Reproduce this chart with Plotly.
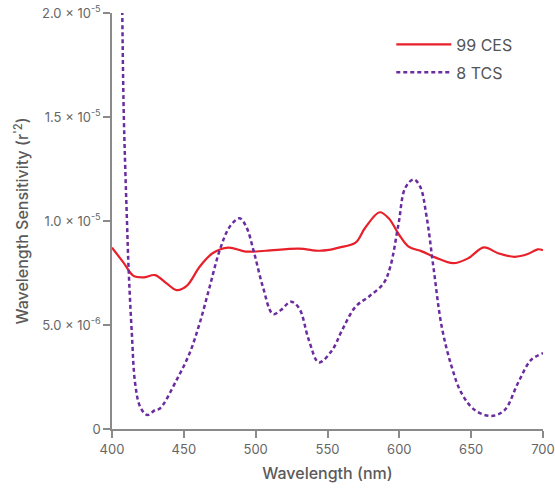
import plotly.graph_objects as go

# 99 CES (solid red)
ces_nm = [400, 408, 415, 422, 430, 438, 445, 452, 461, 470, 481, 493, 507, 530, 544, 551, 558, 569.5, 576, 586.3,
          592.6, 599.5, 606.4, 615.6, 624.9, 637.5, 648, 658.8, 668.7, 680.2, 689.4, 696.3, 700]
ces_val = [8.72e-6, 8.0e-6, 7.36e-6, 7.29e-6, 7.40e-6, 7.0e-6, 6.68e-6, 6.88e-6, 7.80e-6, 8.45e-6, 8.72e-6, 8.53e-6,
           8.57e-6, 8.67e-6, 8.57e-6, 8.61e-6, 8.72e-6, 8.96e-6, 9.65e-6, 10.42e-6,
           10.13e-6, 9.375e-6, 8.77e-6, 8.54e-6, 8.25e-6, 7.97e-6, 8.21e-6, 8.73e-6, 8.45e-6, 8.28e-6, 8.41e-6, 8.64e-6, 8.6e-6]

# 8 TCS (dashed purple)
tcs_nm = [404, 406, 408, 409.2, 410.4, 411.5, 413.8, 416.1, 419.6, 424.5, 430, 433.4, 445, 454, 461, 468, 475, 482,
          488.8, 493.4, 499, 505, 512, 517.6, 524.5, 530.3, 537, 544, 553.3, 560.2, 569.5, 578.7, 589, 593.7, 599.5,
          604, 609.9, 614.5, 619, 623.7, 629.5, 636.4, 643.3, 652.5, 664, 673.3, 682.5, 691.7, 700]
tcs_val = [4.5e-5, 2.8e-5, 1.58e-5, 1.26e-5, 1.005e-5, 7.8e-6, 4.6e-6, 2.2e-6, 1.07e-6, 0.67e-6, 0.91e-6, 0.99e-6,
           2.36e-6, 3.64e-6, 5.08e-6, 6.84e-6, 8.6e-6, 9.73e-6,
           10.13e-6, 9.73e-6, 8.45e-6, 6.84e-6, 5.53e-6, 5.72e-6, 6.12e-6, 5.80e-6, 4.28e-6, 3.2e-6, 3.8e-6, 4.76e-6,
           5.88e-6, 6.36e-6, 7.0e-6, 7.8e-6, 9.89e-6,
           11.57e-6, 12.0e-6, 11.65e-6, 10.2e-6, 7.8e-6, 4.92e-6, 3.0e-6, 1.72e-6, 0.91e-6, 0.625e-6, 0.91e-6, 2.2e-6,
           3.32e-6, 3.64e-6]

x_ticks = [400, 450, 500, 550, 600, 650, 700]
y_ticks = [0, 5e-6, 1e-5, 1.5e-5, 2e-5]
y_ticktext = ["0", "5.0 × 10<sup>-6</sup>", "1.0 × 10<sup>-5</sup>",
              "1.5 × 10<sup>-5</sup>", "2.0 × 10<sup>-5</sup>"]

RED = "#e8202a"
PURPLE = "#6a2c9e"
AXIS = "#8a8a8a"
TEXT = "#666666"
FONT = "Inter"

fig = go.Figure()
fig.add_trace(go.Scatter(x=ces_nm, y=ces_val, mode="lines", name="99 CES", legendgroup="a",
                         line=dict(color=RED, width=2.2, shape="spline", smoothing=1.0)))
fig.add_trace(go.Scatter(x=tcs_nm, y=tcs_val, mode="lines", name="8 TCS", legendgroup="b",
                         line=dict(color=PURPLE, width=2.5, shape="spline", smoothing=1.0, dash="4px,3px")))

fig.update_layout(
    width=555, height=488,
    margin=dict(l=112, r=12, t=13, b=59, autoexpand=False),
    paper_bgcolor="white", plot_bgcolor="white",
    font=dict(family=FONT, color=TEXT, size=13),
    showlegend=True,
    legend=dict(x=0.648, y=0.965, xanchor="left", yanchor="top", itemwidth=55,
                font=dict(size=16, color="#555555"), bgcolor="rgba(0,0,0,0)",
                traceorder="grouped", tracegroupgap=4),
    xaxis=dict(range=[400, 700], tickvals=x_ticks, showgrid=False, zeroline=False,
               showline=True, linecolor=AXIS, linewidth=2, ticks="outside", ticklen=7,
               tickcolor=AXIS, tickwidth=1.5, automargin=False,
               tickfont=dict(size=13, color=TEXT),
               title=dict(text="Wavelength (nm)", font=dict(size=16, color="#5a5a5a", weight=500), standoff=12)),
    yaxis=dict(range=[0, 2e-5], tickvals=y_ticks, ticktext=y_ticktext, showgrid=False, zeroline=False,
               showline=True, linecolor=AXIS, linewidth=1.5, ticks="outside", ticklen=7,
               tickcolor=AXIS, tickwidth=1.5, automargin=False,
               tickfont=dict(size=13, color=TEXT),
               title=dict(text="Wavelength Sensitivity (r<sup>'2</sup>)",
                          font=dict(size=16, color="#5a5a5a", weight=500), standoff=9)),
)

fig.write_html("out.html")
